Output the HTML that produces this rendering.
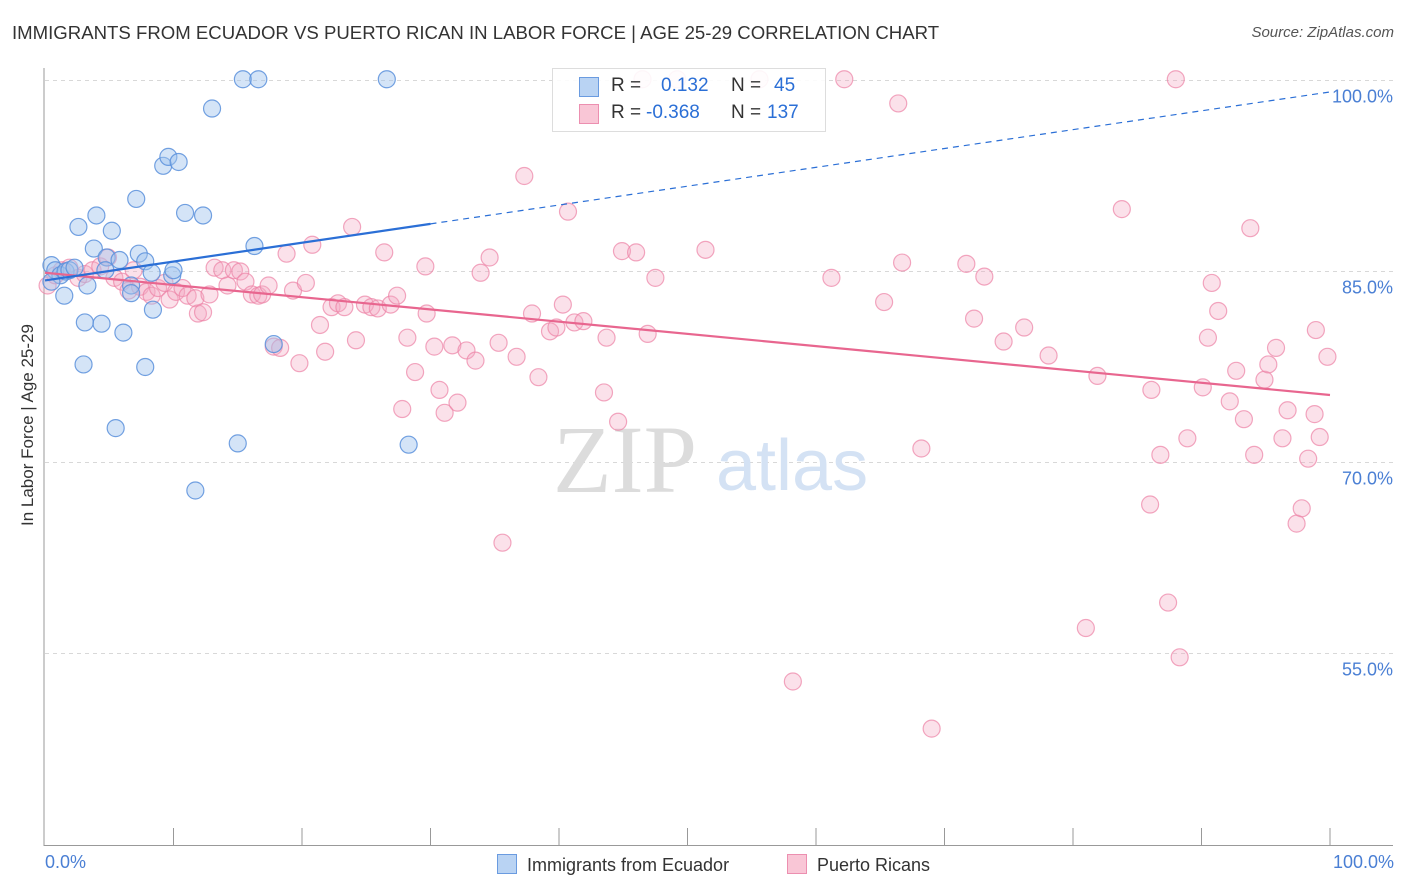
<!DOCTYPE html>
<html><head><meta charset="utf-8">
<style>
body{margin:0;background:#fff;font-family:"Liberation Sans",sans-serif;}
#wrap{position:relative;width:1406px;height:892px;overflow:hidden;}
.t{position:absolute;white-space:nowrap;}
</style></head>
<body>
<div id="wrap">
<div class="t" style="left:12px;top:22px;font-size:18.6px;color:#333;">IMMIGRANTS FROM ECUADOR VS PUERTO RICAN IN LABOR FORCE | AGE 25-29 CORRELATION CHART</div>
<div class="t" style="right:12px;top:24px;font-size:15px;color:#555;font-style:italic;">Source: ZipAtlas.com</div>
<svg id="svg" width="1406" height="892" style="position:absolute;left:0;top:0"></svg>
</div>
<script>
const yTicks=[100,85,70,55];
const yTickLabels=["100.0%","85.0%","70.0%","55.0%"];
const blueX=[0.5,0.8,1.2,1.6,1.9,2.3,0.5,1.5,2.6,3.1,3.0,3.8,4.0,4.4,4.8,5.2,5.5,5.8,6.1,6.7,7.1,7.3,7.8,7.8,8.3,8.4,9.2,9.6,9.9,10.0,10.4,10.9,11.7,12.3,13.0,15.0,15.4,16.3,16.6,17.8,26.6,28.3,6.7,3.3,4.7];
const blueY=[85.5,85.1,84.7,85.0,85.1,85.3,84.2,83.1,88.5,81.0,77.7,86.8,89.4,80.9,86.1,88.2,72.7,85.9,80.2,83.9,90.7,86.4,85.8,77.5,84.9,82.0,93.3,94.0,84.7,85.1,93.6,89.6,67.8,89.4,97.8,71.5,100.1,87.0,100.1,79.3,100.1,71.4,83.3,83.9,85.1];
const pinkX=[0.2,0.8,1.3,1.9,2.6,3.1,3.7,4.3,4.9,5.4,6.0,6.5,6.9,7.4,7.9,8.3,8.8,9.3,9.7,10.2,10.7,11.1,11.7,11.9,12.3,12.8,13.2,13.8,14.2,14.7,15.2,15.6,16.1,16.6,16.9,17.4,17.8,18.3,18.8,19.3,19.8,20.3,20.8,21.4,21.8,22.3,22.8,23.3,23.9,24.2,24.9,25.4,25.9,26.4,26.9,27.4,27.8,28.2,28.8,29.6,29.7,30.3,30.7,31.1,31.7,32.1,32.8,33.5,33.9,34.6,35.3,35.6,36.7,37.3,38.4,37.9,39.3,39.8,40.3,40.7,41.2,41.9,43.5,43.7,44.6,44.9,46.0,46.9,47.5,51.4,58.2,61.2,62.2,65.3,66.4,66.7,68.2,69.0,71.7,72.3,73.1,74.6,76.2,78.1,81.0,81.9,83.8,86.0,86.1,86.8,87.4,88.0,88.3,88.9,90.1,90.5,90.8,91.3,92.2,92.7,93.3,93.8,94.1,94.9,95.2,95.8,96.3,96.7,97.4,97.8,98.3,98.8,98.9,99.2,99.8,46.5,49.2,55.6];
const pinkY=[83.9,84.7,85.1,85.3,84.5,84.8,85.1,85.4,86.1,84.5,84.2,83.5,85.1,83.8,83.4,83.1,83.7,84.1,82.8,83.4,83.7,83.1,82.9,81.7,81.8,83.2,85.3,85.1,83.9,85.1,85.0,84.2,83.2,83.1,83.2,83.9,79.1,79.0,86.4,83.5,77.8,84.1,87.1,80.8,78.7,82.2,82.5,82.2,88.5,79.6,82.4,82.2,82.1,86.5,82.4,83.1,74.2,79.8,77.1,85.4,81.7,79.1,75.7,73.9,79.2,74.7,78.8,78.0,84.9,86.1,79.4,63.7,78.3,92.5,76.7,81.7,80.3,80.6,82.4,89.7,81.0,81.1,75.5,79.8,73.2,86.6,86.5,80.1,84.5,86.7,52.8,84.5,100.1,82.6,98.2,85.7,71.1,49.1,85.6,81.3,84.6,79.5,80.6,78.4,57.0,76.8,89.9,66.7,75.7,70.6,59.0,100.1,54.7,71.9,75.9,79.8,84.1,81.9,74.8,77.2,73.4,88.4,70.6,76.5,77.7,79.0,71.9,74.1,65.2,66.4,70.3,73.8,80.4,72.0,78.3,100.1,100.1,100.1];
const blueTrend=[84.3,99.1];
const pinkTrend=[84.9,75.3];

const NS="http://www.w3.org/2000/svg";
const svg=document.getElementById('svg');
const X0=45,X1=1330;
function sx(v){return X0+(X1-X0)*v/100;}
function sy(v){return 80.5+(100-v)*12.733;}
function mk(tag,attrs,parent){const e=document.createElementNS(NS,tag);for(const k in attrs)e.setAttribute(k,attrs[k]);(parent||svg).appendChild(e);return e;}

yTicks.forEach((t,i)=>{
  const g=mk('line',{x1:45,x2:1393,y1:sy(t),y2:sy(t),stroke:'#d8d8d8','stroke-dasharray':'4,4','stroke-width':1});
  
  
  const tx=mk('text',{x:1393,y:sy(t)+22,'text-anchor':'end','font-size':18,fill:'#4a7fd4','font-family':'Liberation Sans, sans-serif'});
  tx.textContent=yTickLabels[i];
  
  
});
const ya=mk('line',{x1:44,x2:44,y1:68,y2:846,stroke:'#999','stroke-width':1});


const xa=mk('line',{x1:44,x2:1393,y1:845.5,y2:845.5,stroke:'#999','stroke-width':1});


for(let i=1;i<=10;i++){
  const tk=mk('line',{x1:sx(i*10),x2:sx(i*10),y1:828,y2:846,stroke:'#999','stroke-width':1});
  
  
}
const wm=mk('text',{x:553,y:492,'font-size':96,fill:'#dcdcdc','font-family':'Liberation Serif, serif'});
wm.textContent='ZIP';


const wm2=mk('text',{x:716,y:490,'font-size':72,fill:'#d4e2f4','font-family':'Liberation Sans, sans-serif'});
wm2.textContent='atlas';



for(let i=0;i<pinkX.length;i++){
  const c=mk('circle',{cx:sx(pinkX[i]),cy:sy(pinkY[i]),r:8.5,fill:'rgba(244,170,195,0.35)',stroke:'rgba(236,130,165,0.7)','stroke-width':1.2});
  
  
}
for(let i=0;i<blueX.length;i++){
  const c=mk('circle',{cx:sx(blueX[i]),cy:sy(blueY[i]),r:8.5,fill:'rgba(160,195,238,0.45)',stroke:'rgba(90,145,220,0.85)','stroke-width':1.2});
  
  
}
function ty(tr,x){return tr[0]+(tr[1]-tr[0])*x/100;}
const pl=mk('line',{x1:sx(0),y1:sy(ty(pinkTrend,0)),x2:sx(100),y2:sy(ty(pinkTrend,100)),stroke:'#e8668f','stroke-width':2.2});


const bl=mk('line',{x1:sx(0),y1:sy(ty(blueTrend,0)),x2:sx(30),y2:sy(ty(blueTrend,30)),stroke:'#2b6fd6','stroke-width':2.2});


const bd=mk('line',{x1:sx(30),y1:sy(ty(blueTrend,30)),x2:sx(100),y2:sy(ty(blueTrend,100)),stroke:'#2b6fd6','stroke-width':1.2,'stroke-dasharray':'6,5'});


</script>
<div style="position:absolute;left:552px;top:68px;width:272px;height:62px;border:1px solid #ddd;background:rgba(255,255,255,0.9);font-size:19px;">
  <div style="position:absolute;left:26px;top:8px;width:18px;height:18px;background:#b9d3f3;border:1px solid #6a9be0;"></div>
  <div class="t" style="left:58px;top:6px;color:#333;">R = <span style="position:absolute;left:50px;color:#2b6fd6">0.132</span><span style="position:absolute;left:120px;">N =</span><span style="position:absolute;left:163px;color:#2b6fd6">45</span></div>
  <div style="position:absolute;left:26px;top:35px;width:18px;height:18px;background:#f9c6d6;border:1px solid #ec8fb0;"></div>
  <div class="t" style="left:58px;top:33px;color:#333;">R = <span style="position:absolute;left:35px;color:#2b6fd6">-0.368</span><span style="position:absolute;left:120px;">N =</span><span style="position:absolute;left:156px;color:#2b6fd6">137</span></div>
</div>
<div class="t" style="left:-42px;top:446px;font-size:17px;color:#333;transform:rotate(-90deg);transform-origin:center;width:140px;text-align:center;">In Labor Force | Age 25-29</div>
<div class="t" style="left:45px;top:852px;font-size:18px;color:#4a7fd4;">0.0%</div>
<div class="t" style="right:12px;top:852px;font-size:18px;color:#4a7fd4;">100.0%</div>
<div style="position:absolute;left:497px;top:854px;font-size:18px;color:#333;">
  <span style="display:inline-block;width:18px;height:18px;background:#b9d3f3;border:1px solid #6a9be0;vertical-align:-3px;margin-right:10px;"></span>Immigrants from Ecuador</div>
<div style="position:absolute;left:787px;top:854px;font-size:18px;color:#333;">
  <span style="display:inline-block;width:18px;height:18px;background:#f9c6d6;border:1px solid #ec8fb0;vertical-align:-3px;margin-right:10px;"></span>Puerto Ricans</div>
</body></html>
